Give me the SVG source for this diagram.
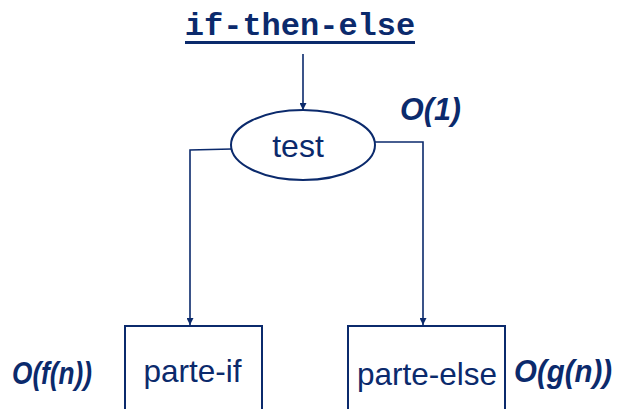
<svg xmlns="http://www.w3.org/2000/svg" width="621" height="409" viewBox="0 0 621 409">
<style>
.ln{fill:none;stroke:#0b2a6c;stroke-width:1.6}
.bx{fill:#fff;stroke:#0b2a6c;stroke-width:2}
.t{font-family:"Liberation Sans",Arial,sans-serif;fill:#0b2a6c;font-size:31.5px}
.o{font-family:"Liberation Sans",Arial,sans-serif;fill:#0b2a6c;font-size:31px;font-weight:bold;font-style:italic}
.c{font-family:"Liberation Mono","Courier New",monospace;fill:#0b2a6c;font-size:32px;font-weight:bold}
</style>
<defs>
<marker id="ah" viewBox="0 0 10 10" refX="10" refY="5" markerWidth="7" markerHeight="7" markerUnits="userSpaceOnUse" orient="auto">
<path d="M0,0 L10,5 L0,10 z" fill="#0b2a6c"/>
</marker>
</defs>
<g id="title">
<text class="c" x="300" y="35" text-anchor="middle">if-then-else</text>
<rect x="185" y="41" width="230" height="3" fill="#0b2a6c"/>
</g>
<g id="connectors">
<path class="ln" d="M303,54 V110" marker-end="url(#ah)"/>
<path class="ln" d="M232,149 L190,150 V325" marker-end="url(#ah)"/>
<path class="ln" d="M375,142 H423 V325" marker-end="url(#ah)"/>
</g>
<g id="test">
<ellipse class="bx" cx="303" cy="145" rx="72" ry="35"/>
<text class="t" x="298" y="157" text-anchor="middle" style="font-size:32px">test</text>
</g>
<g id="o1"><text class="o" x="400" y="120" textLength="61" lengthAdjust="spacingAndGlyphs">O(1)</text></g>
<g id="parte-if">
<rect class="bx" x="125" y="326" width="137" height="100"/>
<text class="t" x="192.5" y="382" text-anchor="middle">parte-if</text>
</g>
<g id="parte-else">
<rect class="bx" x="348" y="326" width="157" height="100"/>
<text class="t" x="427" y="385" text-anchor="middle">parte-else</text>
</g>
<g id="ofn"><text class="o" x="12" y="384" textLength="80" lengthAdjust="spacingAndGlyphs">O(f(n))</text></g>
<g id="ogn"><text class="o" x="514" y="382" textLength="98" lengthAdjust="spacingAndGlyphs">O(g(n))</text></g>
</svg>
